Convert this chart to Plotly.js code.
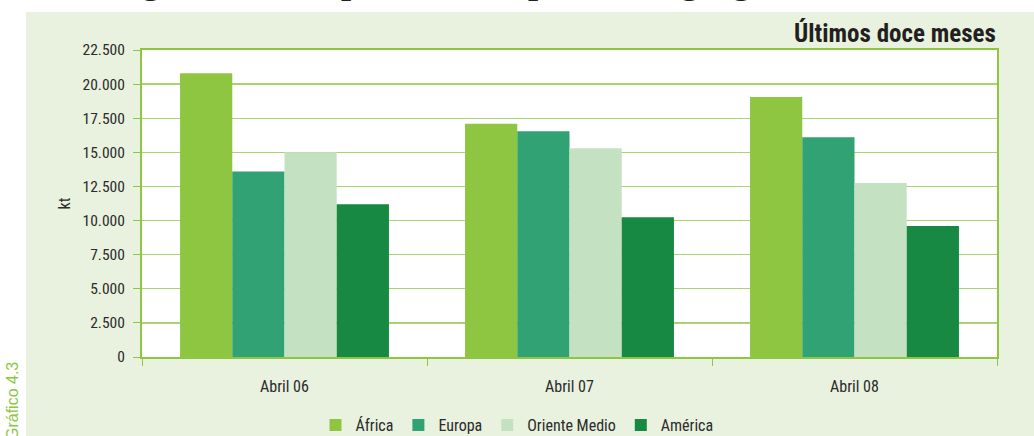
<!DOCTYPE html>
<html>
<head>
<meta charset="utf-8">
<script src="https://cdn.plot.ly/plotly-3.0.1.min.js"></script>
<style>html,body{margin:0;padding:0;background:#fff;}#chart{width:1034px;height:436px;}</style>
</head>
<body>
<div id="chart"></div>
<script>
const categories = ['Abril 06', 'Abril 07', 'Abril 08'];
const seriesNames = ['África', 'Europa', 'Oriente Medio', 'América'];
const africa = [20800, 17100, 19050];
const europa = [13600, 16550, 16100];
const orienteMedio = [15000, 15300, 12750];
const america = [11200, 10250, 9600];
const yTickVals = [0, 2500, 5000, 7500, 10000, 12500, 15000, 17500, 20000, 22500];

const seriesValues = [africa, europa, orienteMedio, america];
const colors = ['#8fc641', '#30a273', '#c4e2c2', '#178942'];

const traces = seriesNames.map((name, i) => ({
  type: 'bar',
  name: name,
  x: categories,
  y: seriesValues[i],
  marker: {color: colors[i], line: {width: 0}},
  hoverinfo: 'x+y+name'
}));

const L = 142, R = 1034 - 997, T = 50, B = 436 - 357;
const PW = 1034 - L - R, PH = 436 - T - B;
const px = v => (v - L) / PW;
const py = v => (436 - B - v) / PH;

const green = '#8dc63f';
const cond = '"Roboto Condensed", "DejaVu Sans Condensed", sans-serif';
const txt = '#2b2b2b';

const layout = {
  width: 1034, height: 436,
  margin: {l: L, r: R, t: T, b: B, pad: 0},
  paper_bgcolor: '#e8f2de',
  plot_bgcolor: '#ffffff',
  separators: ',.',
  barmode: 'group',
  bargap: 0.267,
  bargroupgap: 0,
  showlegend: true,
  legend: {
    orientation: 'h',
    xref: 'container', yref: 'container',
    x: 0.5, xanchor: 'center',
    y: 1 - 425 / 436, yanchor: 'middle',
    font: {family: cond, size: 16, color: txt},
    bgcolor: 'rgba(0,0,0,0)',
    itemwidth: 30,
    tracegroupgap: 0
  },
  xaxis: {
    type: 'category',
    showline: true, mirror: true, linecolor: green, linewidth: 2,
    ticks: 'outside', tickson: 'boundaries', ticklen: 7, tickcolor: green, tickwidth: 1,
    ticklabelstandoff: 14,
    tickfont: {family: cond, size: 16, color: txt},
    showgrid: false, zeroline: false, fixedrange: true
  },
  yaxis: {
    range: [0, 22500],
    tickvals: yTickVals,
    tickformat: ',',
    showline: true, mirror: true, linecolor: green, linewidth: 2,
    ticks: 'outside', ticklen: 7, tickcolor: green, tickwidth: 1,
    ticklabelstandoff: 5,
    tickfont: {family: cond, size: 15.5, color: txt},
    showgrid: true, gridcolor: '#a8d46f', gridwidth: 1.3,
    zeroline: false, fixedrange: true,
    title: {text: 'kt', standoff: 8, font: {family: cond, size: 16, color: txt}}
  },
  shapes: [
    {type: 'rect', xref: 'paper', yref: 'paper', x0: px(-5), x1: px(26), y0: py(445), y1: py(-5),
     fillcolor: '#ffffff', line: {width: 0}, layer: 'above'},
    {type: 'rect', xref: 'paper', yref: 'paper', x0: px(-5), x1: px(1040), y0: py(12), y1: py(-5),
     fillcolor: '#ffffff', line: {width: 0}, layer: 'above'}
  ],
  annotations: [
    {text: '<b>Origen de las importaciones por áreas geográficas</b>', xref: 'paper', yref: 'paper',
     x: px(471), y: py(3), xanchor: 'center', yanchor: 'bottom', showarrow: false,
     font: {family: '"Liberation Serif", "DejaVu Serif", serif', size: 36, color: '#231f20'}},
    {text: '<b>Últimos doce meses</b>', xref: 'paper', yref: 'paper',
     x: px(998), y: py(33), xanchor: 'right', yanchor: 'middle', showarrow: false,
     font: {family: cond, size: 25, color: '#231f20'}},
    {text: 'Gráfico 4.3', xref: 'paper', yref: 'paper',
     x: px(12), y: py(360), xanchor: 'center', yanchor: 'top', showarrow: false, textangle: -90,
     font: {family: '"Liberation Sans", Arial, sans-serif', size: 16, color: '#8dc63f'}}
  ]
};

Plotly.newPlot('chart', traces, layout, {displayModeBar: false, staticPlot: true});
</script>
</body>
</html>
